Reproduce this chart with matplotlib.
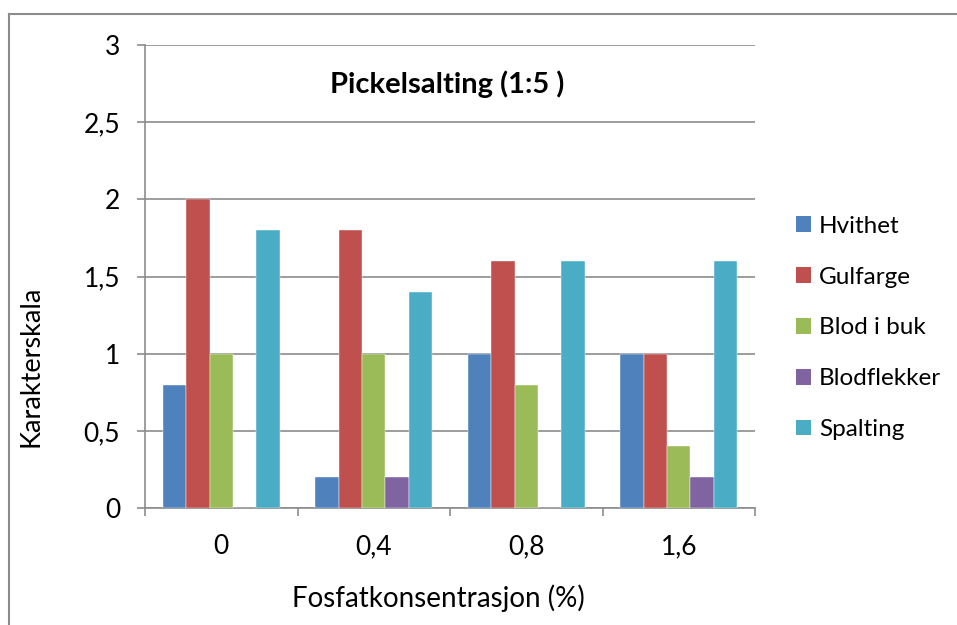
import numpy as np
import matplotlib.pyplot as plt
from matplotlib.patches import Patch
from matplotlib.lines import Line2D

plt.rcParams['font.family'] = ['Lato', 'DejaVu Sans']

categories = ['0', '0,4', '0,8', '1,6']
series = ['Hvithet', 'Gulfarge', 'Blod i buk', 'Blodflekker', 'Spalting']
hvithet = [0.8, 0.2, 1.0, 1.0]
gulfarge = [2.0, 1.8, 1.6, 1.0]
blod_i_buk = [1.0, 1.0, 0.8, 0.4]
blodflekker = [0.0, 0.2, 0.0, 0.2]
spalting = [1.8, 1.4, 1.6, 1.6]
yticks = [0, 0.5, 1, 1.5, 2, 2.5, 3]
ytick_labels = ['0', '0,5', '1', '1,5', '2', '2,5', '3']

colors = ['#4F81BD', '#C0504D', '#9BBB59', '#8064A2', '#4BACC6']
values = [hvithet, gulfarge, blod_i_buk, blodflekker, spalting]

W, H = 957, 625
fig = plt.figure(figsize=(W / 100, H / 100), dpi=100)

# chart border (only top and left visible in the crop)
fig.add_artist(Line2D([9 / W, 1], [1 - 14 / H, 1 - 14 / H], color='#8c8c8c', lw=1.5))
fig.add_artist(Line2D([9 / W, 9 / W], [0, 1 - 14 / H], color='#8c8c8c', lw=1.5))

ax = fig.add_axes([145 / W, 1 - 508 / H, (755 - 145) / W, (508 - 45) / H])

n = len(series)
w = 1 / 6.5
x = np.arange(len(categories))
for i, (name, vals) in enumerate(zip(series, values)):
    offs = (i - (n - 1) / 2) * w
    ax.bar(x + offs, vals, width=w, color=colors[i], edgecolor='white', linewidth=0.3,
           label=name, zorder=3)

ax.set_xlim(-0.5, len(categories) - 0.5)
ax.set_ylim(0, 3)
ax.set_yticks(yticks)
ax.set_yticklabels(ytick_labels, fontsize=19)
ax.yaxis.grid(True, color='#8c8c8c', lw=1.2, zorder=0)
for s in ['top', 'right']:
    ax.spines[s].set_visible(False)
ax.spines['left'].set_color('#8c8c8c')
ax.spines['bottom'].set_color('#8c8c8c')
ax.spines['left'].set_linewidth(1.2)
ax.spines['bottom'].set_linewidth(1.2)
ax.tick_params(axis='y', length=6, color='#8c8c8c', width=1.2, pad=12)

ax.set_xticks(np.arange(len(categories) + 1) - 0.5)
ax.set_xticklabels([])
ax.set_xticks(x, minor=True)
ax.set_xticklabels(categories, minor=True, fontsize=19)
ax.tick_params(axis='x', which='major', length=6, color='#8c8c8c', width=1.2)
ax.tick_params(axis='x', which='minor', length=0, pad=19)

ax.text(0.495, 0.915, 'Pickelsalting (1:5 )', transform=ax.transAxes, ha='center', va='center',
        fontsize=21, fontweight='bold')

fig.text(31 / W, 1 - 366 / H, 'Karakterskala', rotation=90, ha='center', va='center', fontsize=19.5)
fig.text(438 / W, 1 - 598 / H, 'Fosfatkonsentrasjon (%)', ha='center', va='center', fontsize=20)

handles = [Patch(facecolor=c, label=s) for c, s in zip(colors, series)]
fig.legend(handles=handles, loc='center left', bbox_to_anchor=(796 / W, 1 - 328 / H), frameon=False,
           fontsize=17.5, handlelength=0.6, handleheight=0.6, handletextpad=0.35, labelspacing=1.23,
           borderaxespad=0, borderpad=0)

fig.savefig('out.png', dpi=100)
